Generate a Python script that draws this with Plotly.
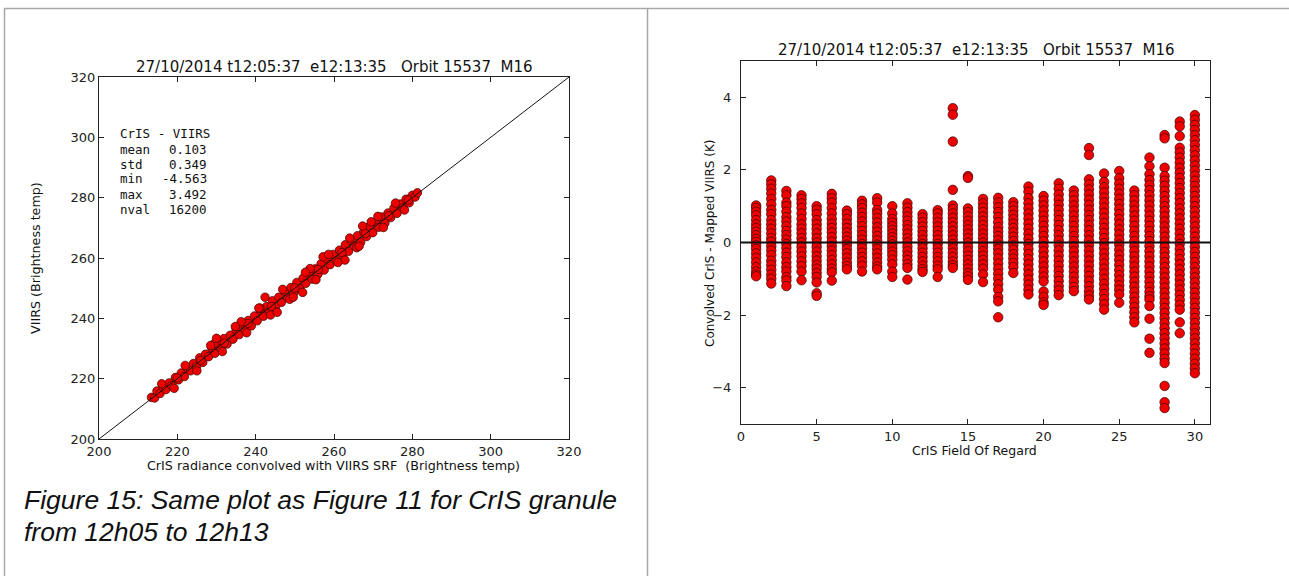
import plotly.graph_objects as go

# ---------------- data ----------------
# Left panel: CrIS convolved brightness temp (x) vs VIIRS brightness temp (y)
cris_bt = [213.4, 214.2, 214.8, 215.6, 216.3, 217.1, 217.9, 218.6, 219.5, 220.3, 221.0, 221.8,
           222.6, 223.4, 224.1, 224.9, 225.7, 226.5, 227.2, 228.0, 228.8, 229.6, 230.4, 231.1,
           231.9, 232.7, 233.5, 234.2, 235.0, 235.8, 236.6, 237.3, 238.1, 238.9, 239.7, 240.4,
           241.2, 242.0, 242.8, 243.5, 244.3, 245.1, 245.9, 246.6, 247.4, 248.2, 249.0, 249.7,
           250.5, 251.3, 252.1, 252.8, 253.6, 254.4, 255.2, 255.9, 256.7, 257.5, 258.3, 259.0,
           259.8, 260.6, 261.4, 262.1, 262.9, 263.7, 264.5, 265.2, 266.0, 266.8, 267.6, 268.3,
           269.1, 269.9, 270.7, 271.4, 272.2, 273.0, 273.8, 274.5, 275.3, 276.1, 276.9, 277.6,
           278.4, 279.2, 280.0, 280.7, 281.3,
           220.0, 226.0, 232.0, 238.0, 244.0, 250.0, 256.0, 262.0, 268.0, 274.0, 279.0,
           242.4, 262.8, 257.2, 241.1, 229.4, 236.3, 248.7, 253.9, 265.8, 271.2,
           216.0, 219.2, 222.0, 225.0, 228.5, 231.5, 234.8, 237.7, 240.8, 243.8, 246.9, 249.6,
           252.7, 255.4, 258.6, 261.0, 264.0, 266.4, 269.5, 272.6, 275.7, 278.0, 230.0, 245.5,
           267.3, 252.0]
viirs_bt = [213.8, 213.6, 215.9, 215.1, 217.2, 216.4, 218.6, 217.7, 220.4, 219.6, 221.9, 220.7,
            223.5, 222.6, 225.0, 224.0, 226.9, 225.4, 228.1, 227.3, 230.1, 228.4, 231.2, 230.0,
            233.3, 231.5, 234.4, 233.1, 236.2, 234.6, 238.0, 236.0, 239.3, 237.5, 240.8, 239.2,
            242.6, 240.7, 243.9, 242.4, 245.8, 243.9, 247.0, 245.3, 248.9, 246.8, 250.2, 248.4,
            251.9, 249.9, 253.3, 251.6, 255.0, 253.0, 256.4, 254.6, 258.1, 256.0, 259.5, 257.8,
            261.2, 259.1, 262.6, 260.9, 264.4, 262.2, 265.6, 264.0, 267.4, 265.2, 268.7, 267.1,
            270.5, 268.4, 271.9, 270.2, 273.6, 271.6, 274.9, 273.4, 276.5, 274.8, 277.9, 276.6,
            279.5, 278.3, 280.8, 280.2, 281.6,
            220.2, 226.1, 231.8, 238.3, 243.9, 250.1, 256.2, 261.8, 268.1, 274.0, 279.2,
            247.0, 259.3, 260.4, 243.4, 231.6, 238.9, 246.3, 256.5, 263.4, 273.8,
            218.3, 216.8, 224.4, 222.6, 231.0, 229.0, 237.3, 235.2, 243.4, 241.1, 249.6, 247.0,
            255.3, 252.8, 261.2, 258.5, 266.6, 263.9, 272.0, 270.1, 278.2, 275.9, 233.4, 242.0,
            270.6, 248.6]

stat_labels = ["mean", "std", "min", "max", "nval"]
stat_values = ["0.103", "0.349", "-4.563", "3.492", "16200"]

# Right panel: Convolved CrIS - Mapped VIIRS (K) for each CrIS Field Of Regard
for_01 = [1.02, 0.95, 0.85, 0.75, 0.62, 0.5, 0.4, 0.3, 0.2, 0.1, 0.02, -0.08, -0.18, -0.3, -0.42, -0.55, -0.68, -0.8, -0.88, -0.93]
for_02 = [1.71, 1.6, 1.48, 1.35, 1.2, 1.05, 0.9, 0.78, 0.62, 0.5, 0.38, 0.25, 0.12, 0.02, -0.1, -0.22, -0.35, -0.5, -0.62, -0.75, -0.88, -1.0, -1.13]
for_03 = [1.42, 1.3, 1.1, 1.0, 0.85, 0.7, 0.58, 0.45, 0.32, 0.2, 0.08, -0.04, -0.15, -0.28, -0.4, -0.55, -0.68, -0.8, -0.95, -1.05, -1.2]
for_04 = [1.3, 1.2, 1.08, 0.95, 0.8, 0.65, 0.5, 0.38, 0.25, 0.12, 0.0, -0.12, -0.25, -0.38, -0.52, -0.65, -0.8, -1.04]
for_05 = [1.0, 0.9, 0.78, 0.62, 0.5, 0.38, 0.25, 0.12, 0.0, -0.12, -0.25, -0.38, -0.5, -0.62, -0.72, -0.84, -0.95, -1.1, -1.4, -1.47]
for_06 = [1.34, 1.22, 1.1, 0.95, 0.8, 0.65, 0.52, 0.4, 0.28, 0.15, 0.02, -0.1, -0.22, -0.35, -0.48, -0.6, -0.72, -0.82, -1.05]
for_07 = [0.88, 0.78, 0.65, 0.52, 0.4, 0.28, 0.16, 0.05, -0.06, -0.18, -0.3, -0.42, -0.55, -0.65, -0.74]
for_08 = [1.15, 1.05, 0.95, 0.82, 0.7, 0.58, 0.45, 0.32, 0.2, 0.08, -0.04, -0.16, -0.28, -0.4, -0.52, -0.64, -0.8]
for_09 = [1.22, 1.1, 0.9, 0.8, 0.68, 0.55, 0.42, 0.3, 0.18, 0.06, -0.06, -0.18, -0.3, -0.42, -0.55, -0.66, -0.74]
for_10 = [1.0, 0.8, 0.65, 0.55, 0.45, 0.35, 0.25, 0.15, 0.05, -0.05, -0.15, -0.25, -0.35, -0.47, -0.6, -0.8, -0.95]
for_11 = [1.08, 0.96, 0.84, 0.72, 0.6, 0.48, 0.36, 0.24, 0.12, 0.0, -0.12, -0.24, -0.36, -0.48, -0.6, -0.7, -1.02]
for_12 = [0.78, 0.68, 0.56, 0.44, 0.32, 0.2, 0.08, -0.04, -0.16, -0.28, -0.4, -0.52, -0.64, -0.74, -0.81]
for_13 = [0.89, 0.8, 0.68, 0.56, 0.44, 0.32, 0.2, 0.08, -0.04, -0.16, -0.28, -0.4, -0.52, -0.64, -0.74, -0.95]
for_14 = [3.7, 3.52, 2.78, 1.45, 1.02, 0.92, 0.8, 0.68, 0.56, 0.44, 0.32, 0.2, 0.08, -0.04, -0.16, -0.28, -0.4, -0.52, -0.62, -0.7]
for_15 = [1.83, 1.78, 0.94, 0.84, 0.72, 0.6, 0.48, 0.36, 0.24, 0.12, 0.0, -0.12, -0.24, -0.36, -0.48, -0.6, -0.72, -0.84, -0.93, -1.03]
for_16 = [1.2, 1.08, 0.96, 0.84, 0.72, 0.6, 0.48, 0.36, 0.24, 0.12, 0.0, -0.12, -0.24, -0.36, -0.48, -0.6, -0.72, -0.88, -1.09]
for_17 = [1.23, 1.1, 0.97, 0.84, 0.7, 0.56, 0.42, 0.3, 0.18, 0.06, -0.06, -0.18, -0.3, -0.44, -0.58, -0.72, -0.86, -1.0, -1.15, -1.3, -1.5, -1.62, -2.06]
for_18 = [1.11, 1.0, 0.88, 0.76, 0.64, 0.52, 0.4, 0.28, 0.16, 0.04, -0.08, -0.2, -0.32, -0.44, -0.56, -0.68, -0.84]
for_19 = [1.54, 1.4, 1.22, 1.08, 0.94, 0.8, 0.66, 0.52, 0.38, 0.24, 0.1, -0.04, -0.18, -0.32, -0.46, -0.6, -0.74, -0.88, -1.02, -1.16, -1.3, -1.43]
for_20 = [1.28, 1.15, 1.02, 0.88, 0.74, 0.6, 0.46, 0.32, 0.18, 0.04, -0.1, -0.24, -0.38, -0.52, -0.66, -0.8, -0.94, -1.07, -1.35, -1.5, -1.65, -1.72]
for_21 = [1.63, 1.48, 1.32, 1.18, 1.04, 0.9, 0.76, 0.62, 0.48, 0.34, 0.2, 0.06, -0.08, -0.22, -0.36, -0.5, -0.64, -0.78, -0.92, -1.06, -1.2, -1.32, -1.45]
for_22 = [1.43, 1.3, 1.16, 1.02, 0.88, 0.74, 0.6, 0.46, 0.32, 0.18, 0.04, -0.1, -0.24, -0.38, -0.52, -0.66, -0.8, -0.94, -1.08, -1.22, -1.34]
for_23 = [2.6, 2.41, 1.74, 1.6, 1.46, 1.32, 1.18, 1.04, 0.9, 0.76, 0.62, 0.48, 0.34, 0.2, 0.06, -0.08, -0.22, -0.36, -0.5, -0.64, -0.78, -0.92, -1.06, -1.2, -1.34, -1.46, -1.57]
for_24 = [1.9, 1.67, 1.52, 1.38, 1.24, 1.1, 0.96, 0.82, 0.68, 0.54, 0.4, 0.26, 0.12, -0.02, -0.16, -0.3, -0.44, -0.58, -0.72, -0.86, -1.0, -1.14, -1.28, -1.42, -1.56, -1.7, -1.85]
for_25 = [1.97, 1.77, 1.62, 1.48, 1.34, 1.2, 1.06, 0.92, 0.78, 0.64, 0.5, 0.36, 0.22, 0.08, -0.06, -0.2, -0.34, -0.48, -0.62, -0.76, -0.9, -1.04, -1.18, -1.3, -1.43, -1.66]
for_26 = [1.43, 1.3, 1.16, 1.02, 0.88, 0.74, 0.6, 0.46, 0.32, 0.18, 0.04, -0.1, -0.24, -0.38, -0.52, -0.66, -0.8, -0.94, -1.08, -1.22, -1.36, -1.5, -1.64, -1.78, -1.92, -2.06, -2.2]
for_27 = [2.34, 2.1, 1.88, 1.72, 1.58, 1.44, 1.3, 1.16, 1.02, 0.88, 0.74, 0.6, 0.46, 0.32, 0.18, 0.04, -0.1, -0.24, -0.38, -0.52, -0.66, -0.8, -0.94, -1.08, -1.22, -1.36, -1.48, -1.57, -1.75, -2.1, -2.65, -3.04]
for_28 = [2.96, 2.87, 2.06, 1.83, 1.7, 1.56, 1.42, 1.28, 1.14, 1.0, 0.86, 0.72, 0.58, 0.44, 0.3, 0.16, 0.02, -0.12, -0.26, -0.4, -0.54, -0.68, -0.82, -0.96, -1.1, -1.24, -1.38, -1.52, -1.66, -1.8, -1.94, -2.08, -2.22, -2.36, -2.5, -2.64, -2.78, -2.92, -3.06, -3.2, -3.32, -3.95, -4.4, -4.56]
for_29 = [3.33, 3.2, 2.93, 2.61, 2.48, 2.34, 2.2, 2.06, 1.92, 1.78, 1.64, 1.5, 1.36, 1.22, 1.08, 0.94, 0.8, 0.66, 0.52, 0.38, 0.24, 0.1, -0.04, -0.18, -0.32, -0.46, -0.6, -0.74, -0.88, -1.02, -1.16, -1.3, -1.44, -1.58, -1.72, -1.85, -2.2, -2.5]
for_30 = [3.51, 3.38, 3.24, 3.1, 2.96, 2.82, 2.68, 2.54, 2.4, 2.26, 2.12, 1.98, 1.84, 1.7, 1.56, 1.42, 1.28, 1.14, 1.0, 0.86, 0.72, 0.58, 0.44, 0.3, 0.16, 0.02, -0.12, -0.26, -0.4, -0.54, -0.68, -0.82, -0.96, -1.1, -1.24, -1.38, -1.52, -1.66, -1.8, -1.94, -2.08, -2.22, -2.36, -2.5, -2.64, -2.78, -2.92, -3.06, -3.2, -3.34, -3.47, -3.6]

left_ticks = [200, 220, 240, 260, 280, 300, 320]
right_xticks = [0, 5, 10, 15, 20, 25, 30]
right_yticks = [-4, -2, 0, 2, 4]

title_text = "27/10/2014 t12:05:37\u00a0\u00a0e12:13:35\u00a0\u00a0\u00a0Orbit 15537\u00a0\u00a0M16"

# ---------------- figure ----------------
W, H = 1289, 576
def px(x):
    return x / W
def py(y):
    return 1 - y / H

columns = [for_01, for_02, for_03, for_04, for_05, for_06, for_07, for_08, for_09, for_10,
           for_11, for_12, for_13, for_14, for_15, for_16, for_17, for_18, for_19, for_20,
           for_21, for_22, for_23, for_24, for_25, for_26, for_27, for_28, for_29, for_30]
fov_x, fov_y = [], []
for i, col in enumerate(columns):
    fov_x += [i + 1] * len(col)
    fov_y += col

marker_left = dict(color="#ee0000", size=8.5, line=dict(color="#3a0000", width=0.7))
marker_right = dict(color="#ee0000", size=9.5, line=dict(color="#3a0000", width=0.7))

fig = go.Figure()
fig.add_trace(go.Scatter(x=cris_bt, y=viirs_bt, mode="markers", marker=marker_left,
                         xaxis="x", yaxis="y", hoverinfo="skip"))
fig.add_trace(go.Scatter(x=fov_x, y=fov_y, mode="markers", marker=marker_right,
                         xaxis="x2", yaxis="y2", hoverinfo="skip"))

tickfont = dict(family="DejaVu Sans", size=13, color="#222222")
axis_common = dict(ticks="inside", ticklen=5, tickwidth=1, tickcolor="#222222",
                   mirror="ticks", showline=True, linecolor="#222222", linewidth=1.2,
                   showgrid=False, zeroline=False, tickfont=tickfont, fixedrange=True,
                   automargin=False)

fig.update_layout(
    template="none",
    width=W, height=H, margin=dict(l=0, r=0, t=0, b=0, pad=0, autoexpand=False),
    paper_bgcolor="white", plot_bgcolor="white", showlegend=False,
    xaxis=dict(domain=[px(99), px(569)], range=[200, 320], anchor="y",
               tickvals=left_ticks, **axis_common),
    yaxis=dict(domain=[py(439), py(77)], range=[200, 320], anchor="x",
               tickvals=left_ticks, **axis_common),
    xaxis2=dict(domain=[px(741), px(1210)], range=[0, 31], anchor="y2",
                tickvals=right_xticks, **axis_common),
    yaxis2=dict(domain=[py(424), py(61)], range=[-5, 5], anchor="x2",
                tickvals=right_yticks, ticklabelstandoff=6, **axis_common),
)

# 1:1 line and zero line
fig.add_shape(type="line", xref="x", yref="y", x0=200, y0=200, x1=320, y1=320,
              line=dict(color="#111111", width=1), layer="above")
fig.add_shape(type="line", xref="x2", yref="y2", x0=0, y0=0, x1=31, y1=0,
              line=dict(color="#111111", width=2), layer="above")

# page frame lines
frame = dict(color="#a8a8a8", width=1.5)
fig.add_shape(type="line", xref="paper", yref="paper", x0=px(4), x1=1, y0=py(8.5), y1=py(8.5), line=frame)
fig.add_shape(type="line", xref="paper", yref="paper", x0=px(4.5), x1=px(4.5), y0=0, y1=py(8.5), line=frame)
fig.add_shape(type="line", xref="paper", yref="paper", x0=px(647.5), x1=px(647.5), y0=0, y1=py(8.5), line=frame)


def ann(x, y, text, size, xanchor="center", family="DejaVu Sans", angle=0):
    fig.add_annotation(x=px(x), y=py(y), xref="paper", yref="paper", text=text,
                       showarrow=False, xanchor=xanchor, yanchor="middle", textangle=angle,
                       font=dict(family=family, size=size, color="#111111"))

# titles
ann(334, 67, title_text, 15)
ann(976, 50, title_text, 15)
# axis titles
ann(333, 465, "CrIS radiance convolved with VIIRS SRF\u00a0\u00a0(Brightness temp)", 12.7)
ann(35, 258, "VIIRS (Brightness temp)", 12.7, angle=-90)
ann(975, 450, "CrIS Field Of Regard", 12.5)
ann(710, 243, "Convolved CrIS - Mapped VIIRS (K)", 12, angle=-90)

# stats box
ann(118, 134, "CrIS - VIIRS", 12.5, xanchor="left", family="DejaVu Sans Mono")
for k, (lab, val) in enumerate(zip(stat_labels, stat_values)):
    ann(118, 149 + 15 * k, lab, 12.5, xanchor="left", family="DejaVu Sans Mono")
    ann(209, 149 + 15 * k, val, 12.5, xanchor="right", family="DejaVu Sans Mono")

# caption
ann(22, 500, "<i>Figure 15: Same plot as Figure 11 for CrIS granule</i>", 26.5, xanchor="left", family="Liberation Sans")
ann(22, 532, "<i>from 12h05 to 12h13</i>", 26.5, xanchor="left", family="Liberation Sans")

fig.write_html("out.html", config={"displayModeBar": False},
               post_script="document.body.style.margin='0';")
